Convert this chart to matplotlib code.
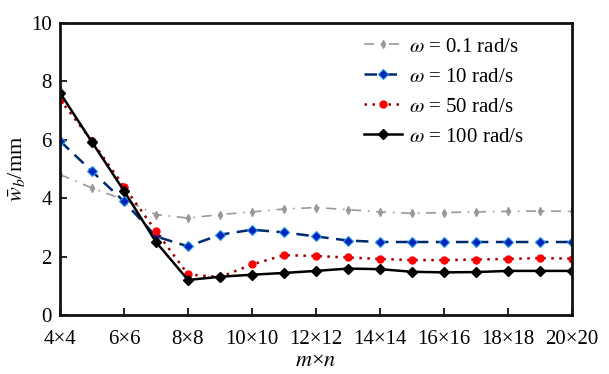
import matplotlib
matplotlib.use("Agg")
import matplotlib.pyplot as plt
import numpy as np

plt.rcParams['font.family'] = ['Liberation Serif', 'DejaVu Serif']
plt.rcParams['mathtext.fontset'] = 'stix'

mesh = list(range(4, 21))
tick_vals = [4, 6, 8, 10, 12, 14, 16, 18, 20]
tick_labels = [f"{v}×{v}" for v in tick_vals]

w_01 = [4.81, 4.35, 3.95, 3.44, 3.32, 3.44, 3.53, 3.63, 3.68, 3.61, 3.53, 3.48, 3.51, 3.53, 3.55, 3.56, 3.55]
w_10 = [5.96, 4.92, 3.89, 2.69, 2.35, 2.75, 2.92, 2.83, 2.69, 2.55, 2.50, 2.50, 2.50, 2.50, 2.50, 2.50, 2.50]
w_50 = [7.38, 5.95, 4.40, 2.87, 1.39, 1.30, 1.73, 2.05, 2.02, 1.97, 1.92, 1.88, 1.88, 1.90, 1.92, 1.95, 1.93]
w_100 = [7.61, 5.92, 4.25, 2.50, 1.20, 1.31, 1.38, 1.44, 1.51, 1.59, 1.57, 1.48, 1.46, 1.47, 1.51, 1.51, 1.51]

labels = [r"$\omega$ = 0.1 rad/s", r"$\omega$ = 10 rad/s", r"$\omega$ = 50 rad/s", r"$\omega$ = 100 rad/s"]

fig = plt.figure(figsize=(6.09, 3.74), dpi=100)
ax = fig.add_axes([60/609, 1-315/374, (572-60)/609, (315-23)/374])

ax.plot(mesh, w_01, color='#999999', linestyle=(0, (6, 4, 1, 4)), linewidth=1.2,
        marker='d', markersize=4, markerfacecolor='#999999', markeredgecolor='#999999', label=labels[0])
ax.plot(mesh, w_10, color='#002a6e', linestyle=(0, (5, 3)), linewidth=1.8,
        marker='D', markersize=5, markerfacecolor='#0022bb', markeredgecolor='#2299ee', markeredgewidth=0.8, label=labels[1])
ax.plot(mesh, w_50, color='#990000', linestyle=(0, (1, 2.2)), linewidth=1.8,
        marker='o', markersize=5, markerfacecolor='#ff0000', markeredgecolor='#ff0000', label=labels[2])
ax.plot(mesh, w_100, color='black', linestyle='-', linewidth=1.8,
        marker='D', markersize=5, markerfacecolor='black', markeredgecolor='black', label=labels[3])

ax.set_xlim(4, 20)
ax.set_ylim(0, 10)
ax.set_xticks(tick_vals)
ax.set_xticklabels(tick_labels)
ax.set_yticks([0, 2, 4, 6, 8, 10])
ax.tick_params(direction='in', length=5, width=1.2, labelsize=15, colors='black', pad=6)
ax.tick_params(axis='x', pad=11)
for s in ax.spines.values():
    s.set_linewidth(2.0)
    s.set_color('#111111')

ax.set_xlabel(r"$m$×$n$", fontsize=16, labelpad=2)
ax.set_ylabel(r"$\bar{w}_b$/mm", fontsize=16, labelpad=3)

leg = ax.legend(loc='upper left', bbox_to_anchor=(364/609, 1-37/374), bbox_transform=fig.transFigure,
                frameon=False, fontsize=15, borderpad=0, borderaxespad=0,
                handlelength=1.8, handletextpad=0.35, labelspacing=0.5)

fig.savefig("out.png", dpi=100)
